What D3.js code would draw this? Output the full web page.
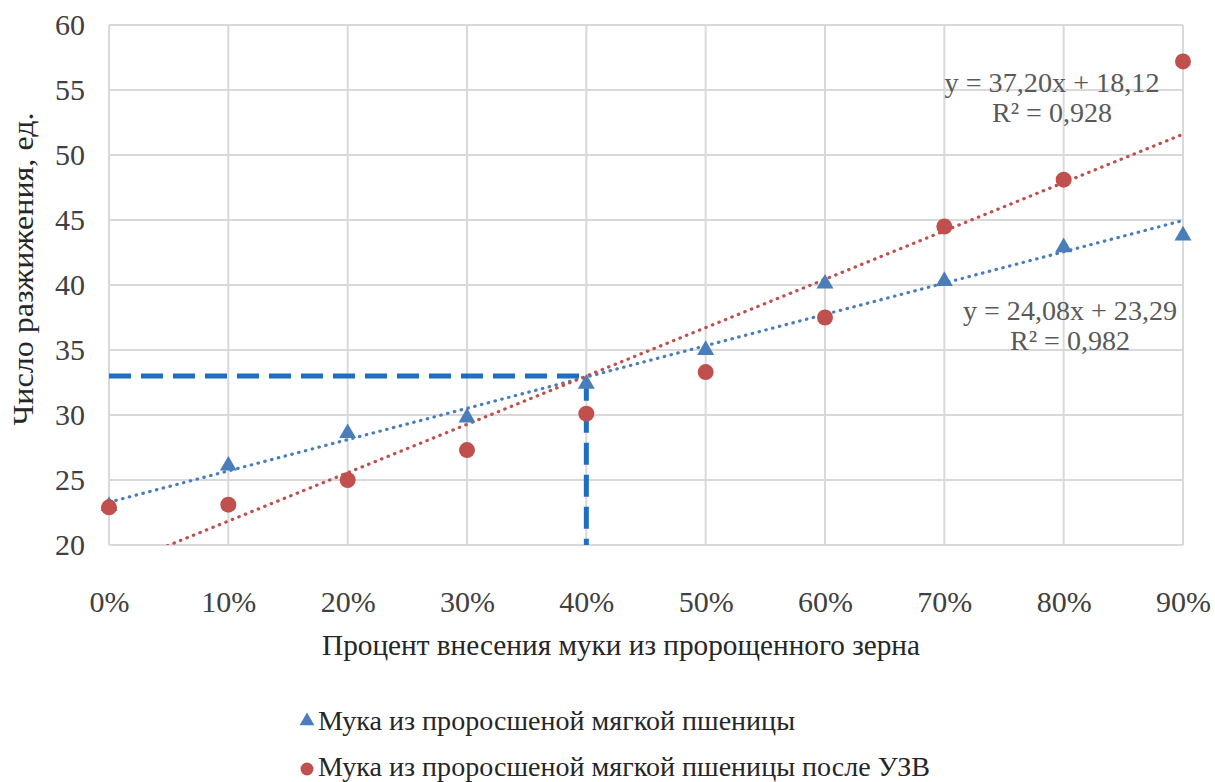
<!DOCTYPE html>
<html>
<head>
<meta charset="utf-8">
<script src="https://cdn.jsdelivr.net/npm/d3@7"></script>
<style>
  html, body { margin: 0; padding: 0; background: #fff; }
  svg { display: block; }
  svg text { font-family: "Liberation Serif", "DejaVu Serif", "Tinos", "Times New Roman", serif !important; }
</style>
</head>
<body>
<svg id="chart" width="1215" height="782"></svg>
<script>
// Share of sprouted-grain flour (fraction) and falling-number readings
const shares = [0, 0.1, 0.2, 0.3, 0.4, 0.5, 0.6, 0.7, 0.8, 0.9];
const softWheat = [23.0, 26.1, 28.6, 29.8, 32.4, 35.0, 40.1, 40.3, 42.9, 43.8];
const softWheatUS = [22.9, 23.1, 25.0, 27.3, 30.1, 33.3, 37.5, 44.5, 48.1, 57.2];
const yTicks = [20, 25, 30, 35, 40, 45, 50, 55, 60];
// Linear trend coefficients [slope, intercept] and R²
const trendSoft = [24.08, 23.29];
const trendSoftUS = [37.20, 18.12];
const eqSoft = ["y = 24,08x + 23,29", "R² = 0,982"];
const eqSoftUS = ["y = 37,20x + 18,12", "R² = 0,928"];
// Reading guide: value 33 at 40 %
const guideX = 0.4, guideY = 33;
const seriesNames = ["Мука из проросшеной мягкой пшеницы", "Мука из проросшеной мягкой пшеницы после УЗВ"];

const svg = d3.select("#chart");
const pLeft = 109, pRight = 1183, pTop = 25, pBottom = 545;
const x = d3.scaleLinear().domain([0, 0.9]).range([pLeft, pRight]);
const y = d3.scaleLinear().domain([20, 60]).range([pBottom, pTop]);

const blue = "#4a7ebb", red = "#c0504d", grid = "#d9d9d9", txt = "#262626", tick = "#404040";

// grid
svg.append("g").selectAll("line").data(yTicks).join("line")
  .attr("x1", pLeft).attr("x2", pRight)
  .attr("y1", d => y(d)).attr("y2", d => y(d))
  .attr("stroke", grid).attr("stroke-width", 2);
svg.append("g").selectAll("line").data(shares).join("line")
  .attr("x1", d => x(d)).attr("x2", d => x(d))
  .attr("y1", pTop).attr("y2", pBottom)
  .attr("stroke", grid).attr("stroke-width", 2);

// axes
const yAxis = svg.append("g").attr("transform", `translate(${pLeft},0)`)
  .call(d3.axisLeft(y).tickValues(yTicks).tickSize(0).tickPadding(24));
yAxis.attr("font-family", null).select(".domain").remove();
yAxis.selectAll("text").attr("font-size", 30).attr("fill", tick);

const xAxis = svg.append("g").attr("transform", `translate(0,${pBottom})`)
  .call(d3.axisBottom(x).tickValues(shares).tickSize(0).tickPadding(46)
    .tickFormat(d3.format(".0%")));
xAxis.attr("font-family", null).select(".domain").remove();
xAxis.selectAll("text").attr("font-size", 30).attr("fill", tick);

// axis titles
svg.append("text").attr("x", 621).attr("y", 655)
  .attr("text-anchor", "middle").attr("font-size", 29).attr("fill", txt)
  .attr("textLength", 598).attr("lengthAdjust", "spacingAndGlyphs")
  .text("Процент внесения муки из пророщенного зерна");
svg.append("text").attr("transform", "translate(33,269) rotate(-90)")
  .attr("text-anchor", "middle").attr("font-size", 30).attr("fill", txt)
  .attr("textLength", 313).attr("lengthAdjust", "spacingAndGlyphs")
  .text("Число разжижения, ед.");

// clip for trend lines
svg.append("clipPath").attr("id", "plotClip").append("rect")
  .attr("x", pLeft).attr("y", pTop).attr("width", pRight - pLeft).attr("height", pBottom - pTop);

// guide lines
svg.append("path")
  .attr("d", d3.line()([[x(0), y(guideY)], [x(guideX), y(guideY)], [x(guideX), y(20)]]))
  .attr("fill", "none").attr("stroke", "#1f6fc0").attr("stroke-width", 5)
  .attr("stroke-dasharray", "22,10");

// trend lines
function trend(coef, color) {
  const pts = d3.range(0, 0.9001, 0.01).map(v => [x(v), y(coef[0] * v + coef[1])]);
  svg.append("path").attr("clip-path", "url(#plotClip)")
    .attr("d", d3.line()(pts))
    .attr("fill", "none").attr("stroke", color).attr("stroke-width", 3.2)
    .attr("stroke-linecap", "round").attr("stroke-dasharray", "0.5,6.5");
}
trend(trendSoft, blue);
trend(trendSoftUS, red);

// markers
const tri = d3.symbol().type(d3.symbolTriangle).size(125);
svg.append("g").selectAll("path").data(shares).join("path")
  .attr("d", tri)
  .attr("transform", (d, i) => `translate(${x(d)},${y(softWheat[i])})`)
  .attr("fill", blue);
svg.append("g").selectAll("circle").data(shares).join("circle")
  .attr("cx", d => x(d)).attr("cy", (d, i) => y(softWheatUS[i]))
  .attr("r", 8).attr("fill", red);

// equations
function eq(lines, cx, cy, widths) {
  lines.forEach((t, i) => svg.append("text").attr("x", cx).attr("y", cy + i * 30)
    .attr("text-anchor", "middle").attr("font-size", 28).attr("fill", "#595959")
    .attr("textLength", widths[i]).attr("lengthAdjust", "spacingAndGlyphs").text(t));
}
eq(eqSoftUS, 1052, 92, [215, 120]);
eq(eqSoft, 1070, 320, [214, 120]);

// legend
const lg = svg.append("g");
lg.append("path").attr("d", d3.symbol().type(d3.symbolTriangle).size(95))
  .attr("transform", "translate(307,721)").attr("fill", blue);
lg.append("text").attr("x", 318).attr("y", 730).attr("font-size", 28).attr("fill", txt)
  .attr("textLength", 477).attr("lengthAdjust", "spacingAndGlyphs").text(seriesNames[0]);
lg.append("circle").attr("cx", 307).attr("cy", 769).attr("r", 6.5).attr("fill", red);
lg.append("text").attr("x", 318).attr("y", 776).attr("font-size", 28).attr("fill", txt)
  .attr("textLength", 612).attr("lengthAdjust", "spacingAndGlyphs").text(seriesNames[1]);
</script>
</body>
</html>
